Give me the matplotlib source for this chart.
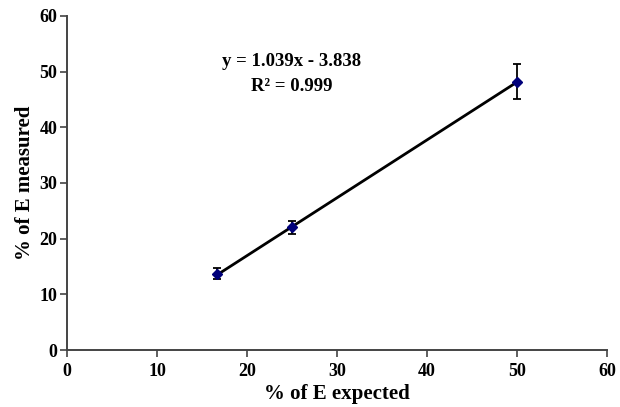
import numpy as np
import matplotlib.pyplot as plt

plt.rcParams['font.family'] = ['Liberation Serif', 'DejaVu Serif']
plt.rcParams['font.weight'] = 'bold'

# data
expected = [16.67, 25.0, 50.0]
measured = [13.7, 22.0, 48.2]
err = [1.0, 1.1, 3.2]
slope = 1.039
intercept = -3.838
r2 = 0.999
ticks = [0, 10, 20, 30, 40, 50, 60]

fig = plt.figure(figsize=(6.2, 4.07), dpi=100)
ax = fig.add_axes([0.108, 0.14, 0.871, 0.821])

# trendline
xl = np.array([expected[0], expected[-1]])
ax.plot(xl, slope * xl + intercept, color='black', lw=2, zorder=2)

ax.errorbar(expected, measured, yerr=err, fmt='D', color='#00007a',
            ms=5, ecolor='black', elinewidth=1.3, capsize=3, capthick=1.3,
            zorder=3)

ax.text(25, 51.8, 'y = 1.039x - 3.838', ha='center', va='center',
        fontsize=13.5, fontweight='bold')
ax.text(25, 47.3, 'R² = %.3f' % r2, ha='center', va='center',
        fontsize=13.5, fontweight='bold')

ax.set_xlim(0, 60)
ax.set_ylim(0, 60)
ax.set_xticks(ticks)
ax.set_yticks(ticks)
ax.tick_params(labelsize=13, color='#444444', width=1.2, length=5,
               direction='out', pad=2)
ax.tick_params(axis='x', pad=4)
for lab in ax.get_xticklabels() + ax.get_yticklabels():
    lab.set_fontweight('bold')
ax.spines['top'].set_visible(False)
ax.spines['right'].set_visible(False)
for s in ['left', 'bottom']:
    ax.spines[s].set_color('#444444')
    ax.spines[s].set_linewidth(1.4)

ax.set_xlabel('% of E expected', fontsize=15, fontweight='bold', labelpad=3)
ax.set_ylabel('% of E measured', fontsize=15, fontweight='bold', labelpad=3)

fig.savefig('out.png', dpi=100)
